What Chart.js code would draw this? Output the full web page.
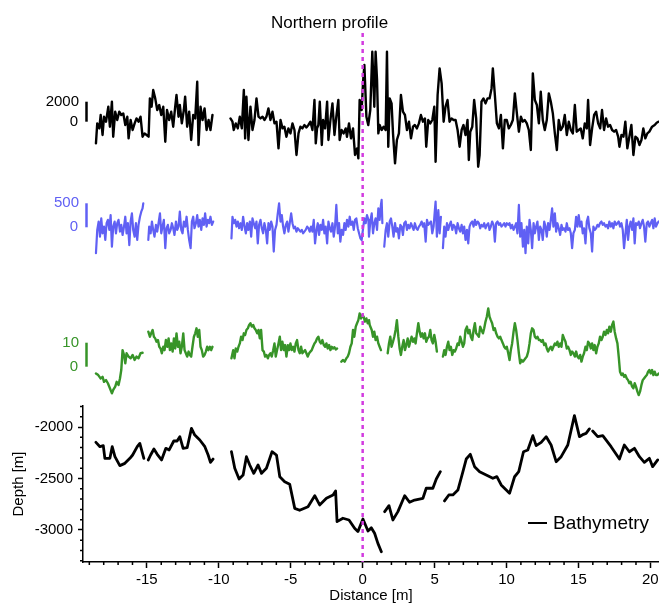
<!DOCTYPE html>
<html>
<head>
<meta charset="utf-8">
<title>Northern profile</title>
<script src="https://cdn.jsdelivr.net/npm/chart.js@4.4.1/dist/chart.umd.min.js"></script>
<style>
  html, body { margin: 0; padding: 0; background: #fff; }
</style>
</head>
<body>
<canvas id="profileChart" width="659" height="603"></canvas>
<script>
// Profile traces (distance in m, null = gap in the record)
const magX = [
  -18.54, -18.45, -18.31, -18.21, -18.08, -17.98, -17.84, -17.68, -17.57, -17.43, -17.34, -17.2, -17.06, -16.92, -16.78, -16.64,
  -16.5, -16.36, -16.27, -16.13, -15.99, -15.85, -15.72, -15.58, -15.44, -15.3, -15.16, -15.02, -14.88, -14.79, -14.67, -14.56,
  -14.42, -14.28, -14.14, -14.0, -13.86, -13.72, -13.6, -13.45, -13.31, -13.17, -13.03, -12.94, -12.8, -12.71, -12.57, -12.43,
  -12.34, -12.2, -12.06, -11.92, -11.78, -11.64, -11.5, -11.41, -11.27, -11.13, -10.99, -10.85, -10.71, -10.58, -10.44,
  -9.8,
  -9.19, -9.05, -8.96, -8.82, -8.68, -8.54, -8.4, -8.26, -8.17, -8.08, -7.94, -7.8, -7.66, -7.52, -7.38, -7.24, -7.1, -6.96,
  -6.83, -6.69, -6.55, -6.41, -6.27, -6.13, -5.99, -5.85, -5.71, -5.57, -5.44, -5.3, -5.16, -5.02, -4.88, -4.74, -4.6, -4.46,
  -4.33, -4.19, -4.05, -3.91, -3.77, -3.63, -3.49, -3.35, -3.26, -3.17, -3.08, -2.98, -2.84, -2.75, -2.61, -2.47, -2.38, -2.24,
  -2.1, -1.96, -1.83, -1.69, -1.6, -1.46, -1.32, -1.18, -1.09, -0.95, -0.81, -0.67, -0.53, -0.39, -0.3, -0.21, -0.07, 0.03, 0.12,
  0.26, 0.39, 0.53, 0.67, 0.81, 0.9, 1.0, 1.09, 1.18, 1.32, 1.46, 1.6, 1.69, 1.78, 1.88, 2.01, 2.11, 2.25, 2.38, 2.52, 2.66, 2.8,
  2.94, 3.08, 3.22, 3.36, 3.5, 3.63, 3.77, 3.91, 4.05, 4.19, 4.33, 4.42, 4.56, 4.7, 4.84, 4.98, 5.07, 5.21, 5.35, 5.49, 5.63,
  5.76, 5.9, 6.04, 6.18, 6.32, 6.46, 6.6, 6.74, 6.88, 7.01, 7.15, 7.29, 7.38, 7.48, 7.62, 7.75, 7.89, 8.03, 8.13, 8.26, 8.4, 8.54,
  8.68, 8.82, 8.96, 9.05, 9.19, 9.33, 9.47, 9.61, 9.75, 9.88, 10.02, 10.16, 10.3, 10.44, 10.58, 10.72, 10.86, 11.0, 11.13, 11.27,
  11.41, 11.55, 11.69, 11.83, 11.97, 12.11, 12.25, 12.38, 12.52, 12.66, 12.8, 12.94, 13.08, 13.22, 13.36, 13.5, 13.63, 13.77,
  13.91, 14.05, 14.19, 14.33, 14.47, 14.61, 14.75, 14.88, 15.02, 15.16, 15.3, 15.44, 15.58, 15.67, 15.81, 15.95, 16.09, 16.23,
  16.37, 16.51, 16.64, 16.78, 16.92, 17.06, 17.2, 17.34, 17.48, 17.62, 17.76, 17.85, 17.99, 18.13, 18.26, 18.4, 18.54, 18.68,
  18.82, 18.96, 19.1, 19.24, 19.38, 19.51, 19.65, 19.79, 19.93, 20.12, 20.3, 20.44, 20.56
];
const magVal = [
  -2170, -170, -670, 670, -1330, 500, 0, 1500, -500, 2000, -1500, 1000, 170, 1000, 670, 830,
  -330, 500, -1670, 170, -830, -170, 330, 0, 500, -1500, -1170, -1330, -1500, 2330, 1500, 3170,
  2330, 1170, 1670, 670, 1500, -2000, 1170, 170, 1000, -500, 1500, 2670, 500, 1670, -170, 1170,
  2500, -500, 1000, -1830, 670, 330, 4000, -2330, 1500, 170, 1330, -830, 170, -830, 670,
  null,
  330, 0, -830, -170, -670, 500, -670, 3170, -1670, 2500, -1830, 1500, -830, 170, 2330, 500, 330, 500,
  170, 500, 1330, 170, 1000, -170, 0, -2670, 170, -670, -500, -1500, -670, -1170, -170, -830, -3330, -1170,
  -500, -670, -330, -570, -330, 0, -830, 2170, -2170, -670, -330, 2000, -2330, 170, -670, 2000, -1830, 170,
  1830, -1330, 500, 2170, -1830, -830, -1170, -670, -1500, -170, -1670, -670, -3330, -2670, -3670, 2170, 1170, 4000, 5670,
  500, -330, 1170, 7000, 1500, 7000, 4170, -1170, -330, -830, -500, -830, 7000, -2500, 2330, 1830, -1170, -4170, -1830, -1170, 2670, 1000,
  670, -830, 0, -1670, -500, -330, -670, -170, 670, 0, 330, -2500, 170, -170, 170, 1500, -4000, 2670, 5330, 3830, 0,
  1500, 2170, 0, 330, 170, 170, -830, -2500, -830, -330, -1330, 170, -3830, -1000, -500, 2170, 330, -4500, -3330, 2000, 2330, 1830,
  2330, 2330, 3330, 5330, 2670, -170, -670, 670, -2670, 170, 170, -670, -330, 170, 2830, 830, -1000, 500, 0, 170,
  -170, -830, -2830, 4830, 2170, 1670, -170, 3000, 170, -830, 170, 2830, 2000, 830, -1170, -2830, 170, -830,
  -500, 670, -1330, 0, -830, -1170, 1670, -1000, -830, -670, -1670, -170, -670, 2170, -2330, -670, 670, 1000,
  -170, -670, 1170, -830, 330, -500, -330, -830, -1000, -830, -1500, -2500, -1330, -1500, 0, -2670, -1500, -330,
  -3330, -1500, -1670, -2330, -1830, -670, -1670, -1170, -1000, -500, -330, -100, 0
];

const blueX = [
  -18.54, -18.45, -18.35, -18.26, -18.17, -18.08, -17.98, -17.89, -17.8, -17.71, -17.61, -17.52, -17.43, -17.34, -17.24, -17.15,
  -17.06, -16.97, -16.87, -16.78, -16.69, -16.59, -16.5, -16.41, -16.32, -16.22, -16.13, -16.04, -15.95, -15.85, -15.76, -15.67,
  -15.58, -15.48, -15.39, -15.3, -15.25,
  -15.1,
  -14.9, -14.84, -14.74, -14.65, -14.56, -14.47, -14.37, -14.28, -14.19, -14.09, -14.0, -13.91, -13.82, -13.72, -13.63, -13.54,
  -13.45, -13.35, -13.26, -13.17, -13.08, -12.98, -12.89, -12.8, -12.71, -12.61, -12.52, -12.43, -12.33, -12.24, -12.15, -12.06,
  -11.96, -11.87, -11.78, -11.69, -11.59, -11.5, -11.41, -11.32, -11.22, -11.13, -11.04, -10.95, -10.85, -10.76, -10.67, -10.58,
  -10.48, -10.39,
  -9.8,
  -9.12, -9.05, -8.96, -8.86, -8.77, -8.68, -8.59, -8.49, -8.4, -8.31, -8.21, -8.12, -8.03, -7.94, -7.84, -7.75, -7.66, -7.57,
  -7.47, -7.38, -7.29, -7.2, -7.1, -7.01, -6.92, -6.83, -6.73, -6.64, -6.55, -6.46, -6.36, -6.27, -6.18, -6.09, -5.99, -5.9,
  -5.81, -5.71, -5.62, -5.53, -5.44, -5.34, -5.25, -5.16, -5.07, -4.97, -4.88, -4.79, -4.7, -4.6, -4.51, -4.42, -4.33, -4.23,
  -4.14, -4.05, -3.96, -3.86, -3.77, -3.68, -3.59, -3.49, -3.4, -3.31, -3.21, -3.12, -3.03, -2.94, -2.84, -2.75, -2.66, -2.57,
  -2.47, -2.38, -2.29, -2.2, -2.1, -2.01, -1.92, -1.83, -1.73, -1.64, -1.55, -1.46, -1.36, -1.27, -1.18, -1.09, -0.99, -0.9,
  -0.81, -0.71, -0.62, -0.53, -0.44, -0.34, -0.25, -0.16, -0.07, 0.03, 0.12, 0.21, 0.3, 0.4, 0.44, 0.53, 0.63, 0.72, 0.81, 0.9,
  1.0, 1.09, 1.18, 1.27, 1.32, 1.37,
  1.43,
  1.5, 1.6, 1.69, 1.78, 1.88, 1.97, 2.06, 2.15, 2.25, 2.34, 2.43, 2.52, 2.62, 2.71, 2.8, 2.89, 2.99, 3.08, 3.17, 3.26, 3.36,
  3.45, 3.54, 3.63, 3.73, 3.82, 3.91, 4.0, 4.1, 4.19, 4.28, 4.38, 4.47, 4.56, 4.65, 4.75, 4.84, 4.93, 5.02, 5.07, 5.16, 5.26,
  5.35, 5.44,
  5.5,
  5.58, 5.67, 5.76, 5.86, 5.95, 6.04, 6.13, 6.23, 6.32, 6.41, 6.5, 6.6, 6.69, 6.78, 6.88, 6.97, 7.06, 7.15, 7.25, 7.34, 7.43,
  7.52, 7.62, 7.71, 7.8, 7.89, 7.99, 8.08, 8.17, 8.26, 8.36, 8.45, 8.54, 8.63, 8.73, 8.82, 8.91, 9.0, 9.1, 9.19, 9.28, 9.38,
  9.47, 9.56, 9.65, 9.75, 9.84, 9.93, 10.02, 10.12, 10.21, 10.3, 10.39, 10.49, 10.58, 10.67, 10.76, 10.86, 10.95, 11.04, 11.14,
  11.23, 11.32, 11.41, 11.51, 11.6, 11.69, 11.78, 11.88, 11.97, 12.06, 12.15, 12.25, 12.34, 12.43, 12.52, 12.62, 12.71, 12.8,
  12.89, 12.99, 13.08, 13.17, 13.26, 13.36, 13.45, 13.54, 13.63, 13.73, 13.82, 13.91, 14.0, 14.1, 14.19, 14.28, 14.38, 14.47,
  14.56, 14.65, 14.75, 14.84, 14.93, 15.02, 15.12, 15.21, 15.3, 15.39, 15.49, 15.58, 15.67, 15.76, 15.86, 15.95, 16.04, 16.13,
  16.23, 16.32, 16.41, 16.5, 16.6, 16.69, 16.78, 16.88, 16.97, 17.06, 17.15, 17.25, 17.34, 17.43, 17.52, 17.62, 17.71, 17.8,
  17.89, 17.99, 18.08, 18.17, 18.26, 18.36, 18.45, 18.54, 18.63, 18.73, 18.82, 18.91, 19.0, 19.1, 19.19, 19.28, 19.38, 19.47,
  19.56, 19.65, 19.75, 19.84, 19.93, 20.02, 20.12, 20.21, 20.3, 20.39, 20.49, 20.58
];
const blueVal = [
  -540, -55, 120, -195, 185, -125, 15, -265, 85, 155, -55, 255, -405, 15, 120, -125,
  85, 155, -90, 50, -160, 15, 220, -125, 85, -370, 120, 290, -55, -195, 85, -265,
  50, 220, 325, 395, 500,
  null,
  -265, 15, -125, 120, -55, -195, 50, -90, 85, 290, -125, 15, 155, -435, -20, 50,
  -125, -55, 85, -20, -160, 120, -55, 15, 325, -55, -125, 120, 15, 220, -55, -265,
  -435, 120, 220, -20, 85, 255, 15, 155, -55, 185, 50, 290, 15, 155, 85, 220,
  50, 120,
  null,
  -230, 220, 85, 155, 15, 120, -20, 85, -55, 220, 15, -125, 85, -55, 120, -195, 185, 85,
  -20, 120, -335, 50, 155, -20, -125, 85, -55, -335, 85, -55, 120, 15, -505, -55, 50, 290,
  500, 120, 255, 15, -125, 50, 120, -90, 85, 290, 85, -20, 15, -90, -20, -55, -90, -55,
  -125, -90, -55, 15, -20, -90, 15, -90, 155, -335, -55, 85, -160, 50, -55, 155, -125, 15,
  -335, 120, -20, -90, 85, -195, 15, 465, -125, 85, -300, -55, -160, 85, -55, 155, 15, 220,
  50, 120, -55, 155, 185, -20, -125, -230, -265, -20, 185, 85, 255, 155, -195, 120, 290, -125, 85, 185,
  -55, 395, 155, 465, 570, 85,
  null,
  -405, -55, 85, -195, 120, 185, 15, -195, 85, -90, -20, -230, 50, 15, -160, 85, 120, -55, 50, -20, 85,
  15, -55, 85, -20, -55, 15, 50, 120, 15, 85, -300, 155, 50, 85, 120, -125, 15, 360, 535, -195, 360,
  -125, 220,
  null,
  -435, 15, -195, 85, -55, 50, 120, -55, 50, 15, -125, 85, -20, -90, 50, -125, 15, -265, -55, -335, 15,
  85, 120, 15, 155, 50, 120, 85, -20, 50, 15, 85, -20, 50, 85, -55, 15, 120, 50, -300, 85, 120,
  50, 85, 15, 50, 85, 15, 85, 50, 85, -20, 50, -55, 15, 85, -125, 465, -195, 85, -405,
  -55, -540, 15, -335, 155, -55, -435, 85, -125, 15, 120, -265, 15, -55, -265, 120, 15, -195,
  85, -55, 155, 395, 15, 290, -90, 85, -20, -160, 50, -55, -20, -90, 85, -55, -20, -125,
  -435, -125, -55, 220, 15, 255, 15, 120, -125, -20, -335, 120, 220, -20, -125, -505, 15, -55,
  -20, 50, 15, 85, 120, 50, 85, 15, 50, -20, 120, 15, 85, -20, 120, 50, 85, 120,
  15, 85, -55, -435, -160, 155, -265, 15, 120, -55, 185, -335, 85, 50, 120, -20, 85, 155,
  15, -300, 85, 120, 15, 85, 155, -20, 185, 15, 85, 120
];

const greenX = [
  -18.54, -18.38, -18.21, -18.08, -17.98, -17.84, -17.71, -17.57, -17.43, -17.34, -17.2, -17.1, -16.97, -16.87, -16.78, -16.69,
  -16.59, -16.5, -16.41, -16.27, -16.13, -15.99, -15.85, -15.72, -15.58, -15.44, -15.3,
  -15.1,
  -14.9, -14.79, -14.7, -14.6, -14.51, -14.42, -14.33, -14.23, -14.14, -14.05, -13.96, -13.86, -13.77, -13.68, -13.58, -13.49,
  -13.4, -13.31, -13.21, -13.12, -13.03, -12.94, -12.84, -12.75, -12.66, -12.57, -12.47, -12.38, -12.29, -12.2, -12.1, -12.01,
  -11.92, -11.83, -11.73, -11.64, -11.55, -11.46, -11.36, -11.27, -11.18, -11.09, -10.99, -10.9, -10.81, -10.72, -10.62, -10.53,
  -10.44,
  -9.8,
  -9.12, -9.0, -8.91, -8.82, -8.72, -8.63, -8.54, -8.45, -8.35, -8.26, -8.17, -8.08, -7.98, -7.89, -7.8, -7.71, -7.61, -7.52,
  -7.43, -7.33, -7.24, -7.15, -7.06, -6.96, -6.87, -6.78, -6.69, -6.59, -6.5, -6.41, -6.32, -6.22, -6.13, -6.04, -5.95, -5.85,
  -5.76, -5.67, -5.58, -5.48, -5.39, -5.3, -5.2, -5.11, -5.02, -4.93, -4.83, -4.74, -4.65, -4.56, -4.46, -4.37, -4.28, -4.19,
  -4.09, -4.0, -3.91, -3.82, -3.72, -3.63, -3.54, -3.45, -3.35, -3.26, -3.17, -3.08, -2.98, -2.89, -2.8, -2.7, -2.61, -2.52,
  -2.43, -2.33, -2.24, -2.15, -2.06, -1.96, -1.87, -1.78,
  -1.6,
  -1.48, -1.36, -1.25, -1.13, -1.04, -0.95, -0.85, -0.76, -0.67, -0.58, -0.48, -0.39, -0.3, -0.21, -0.11, -0.02, 0.07, 0.16,
  0.26, 0.35, 0.44, 0.49, 0.63, 0.72, 0.81, 0.9, 1.0, 1.09, 1.18, 1.27,
  1.5,
  1.74, 1.83, 1.92, 2.01, 2.11, 2.2, 2.29, 2.38, 2.48, 2.57, 2.66, 2.75, 2.85, 2.94, 3.03, 3.13, 3.22, 3.31, 3.4, 3.5, 3.59,
  3.68, 3.77, 3.87, 3.96, 4.05, 4.14, 4.24, 4.33, 4.42, 4.51, 4.61, 4.7, 4.79, 4.88, 4.98, 5.07, 5.16,
  5.4,
  5.58, 5.67, 5.76, 5.86, 5.95, 6.04, 6.13, 6.23, 6.32, 6.41, 6.5, 6.6, 6.69, 6.78, 6.88, 6.97, 7.06, 7.15, 7.25, 7.34, 7.43,
  7.52, 7.62, 7.71, 7.8, 7.89, 7.99, 8.08, 8.17, 8.26, 8.36, 8.45, 8.54, 8.63, 8.73, 8.82, 8.91, 9.0, 9.1, 9.19, 9.28, 9.38,
  9.47, 9.56, 9.65, 9.75, 9.84, 9.93, 10.02, 10.12, 10.21, 10.3, 10.39, 10.49, 10.58, 10.67, 10.76, 10.86, 10.95, 11.04, 11.14,
  11.23, 11.32, 11.41, 11.51, 11.6, 11.69, 11.78, 11.88, 11.97, 12.06, 12.15, 12.25, 12.34, 12.43, 12.52, 12.62, 12.71, 12.8,
  12.89, 12.99, 13.08, 13.17, 13.26, 13.36, 13.45, 13.54, 13.63, 13.73, 13.82, 13.91, 14.0, 14.1, 14.19, 14.28, 14.38, 14.47,
  14.56, 14.65, 14.75, 14.84, 14.93, 15.02, 15.12, 15.21, 15.3, 15.39, 15.49, 15.58, 15.67, 15.76, 15.86, 15.95, 16.04, 16.13,
  16.23, 16.32, 16.41, 16.5, 16.6, 16.69, 16.78, 16.88, 16.97, 17.06, 17.15, 17.25, 17.34, 17.43, 17.52, 17.62, 17.71, 17.8,
  17.89, 17.99, 18.08, 18.17, 18.26, 18.36, 18.45, 18.54, 18.63, 18.73, 18.82, 18.91, 19.0, 19.1, 19.19, 19.28, 19.38, 19.47,
  19.56, 19.65, 19.75, 19.84, 19.93, 20.02, 20.12, 20.21, 20.3, 20.39, 20.49, 20.58
];
const greenVal = [
  -2.8, -3.5, -4.9, -4.2, -6.3, -5.6, -6.9, -9.0, -11.1, -9.7, -8.3, -6.3, -7.6, -4.9, -1.4, 6.9,
  4.9, 1.4, 5.6, 4.2, 3.5, 4.9, 2.8, 4.2, 3.5, 5.6, 5.8,
  null,
  14.6, 12.5, 13.9, 15.3, 12.5, 11.8, 10.4, 11.1, 8.3, 7.6, 5.6, 8.3, 6.9, 11.1, 8.3, 11.8,
  6.9, 9.7, 6.3, 11.8, 7.6, 13.9, 8.3, 10.4, 5.6, 8.3, 13.9, 6.9, 5.6, 4.2, 6.3, 4.9,
  4.2, 8.3, 12.5, 13.9, 16.0, 12.5, 15.3, 8.3, 6.9, 4.2, 4.9, 6.3, 8.3, 6.9, 8.3, 6.9,
  8.3,
  null,
  3.5, 6.9, 3.5, 7.6, 6.3, 8.3, 9.7, 12.5, 11.1, 13.9, 13.2, 15.3, 16.0, 17.4, 18.1, 16.7, 17.4, 16.0,
  15.3, 13.9, 15.3, 11.8, 15.3, 6.9, 6.3, 4.2, 4.9, 3.5, 4.9, 5.6, 4.2, 6.9, 9.7, 4.2, 6.9, 9.7,
  12.5, 6.9, 10.4, 6.9, 9.0, 4.2, 9.0, 6.9, 9.7, 6.9, 8.3, 6.3, 9.7, 11.1, 6.9, 5.6, 8.3, 5.6,
  6.3, 6.9, 5.6, 4.2, 5.6, 6.3, 6.9, 8.3, 9.7, 10.4, 11.8, 12.5, 10.4, 9.7, 11.1, 9.0, 8.3, 9.7,
  7.6, 9.0, 6.9, 8.3, 7.6, 8.1, 7.2, 7.6,
  null,
  2.1, 2.8, 2.1, 3.5, 4.2, 5.6, 8.3, 9.7, 15.3, 12.5, 16.7, 18.1, 19.4, 22.2, 20.1, 21.5, 20.8, 18.8,
  20.1, 18.1, 19.4, 17.4, 15.3, 12.5, 14.6, 11.1, 12.5, 9.7, 8.3, 6.9,
  null,
  5.6, 9.7, 12.5, 8.3, 10.4, 12.5, 15.3, 19.4, 12.5, 7.6, 4.9, 8.3, 11.1, 6.9, 9.0, 11.8, 8.3, 10.4, 12.5, 10.4, 11.8,
  9.7, 13.9, 18.1, 14.6, 12.5, 13.9, 11.8, 13.9, 10.4, 11.8, 12.5, 15.3, 11.1, 9.7, 13.2, 10.4, 6.3,
  null,
  4.2, 6.9, 4.9, 8.3, 10.4, 6.9, 8.3, 4.9, 6.9, 6.3, 7.6, 9.7, 9.0, 12.5, 10.4, 8.3, 9.7, 15.3, 16.7, 13.9, 15.3,
  12.5, 11.1, 15.3, 18.1, 13.9, 13.2, 12.5, 16.7, 15.3, 13.9, 16.0, 18.8, 20.8, 24.3, 20.8, 19.4, 18.1, 15.3, 16.0, 13.9, 12.5,
  11.8, 12.5, 11.1, 9.7, 8.3, 7.6, 8.3, 5.6, 2.8, 6.9, 9.7, 14.6, 18.1, 15.3, 11.1, 5.6, 1.4, 2.8, 2.1,
  2.8, 3.5, 4.2, 6.3, 9.7, 13.9, 16.0, 15.3, 12.5, 11.8, 12.5, 11.1, 11.1, 10.4, 11.1, 9.0, 9.7, 7.6,
  6.3, 7.6, 8.3, 6.9, 8.3, 9.7, 9.0, 10.4, 8.3, 9.7, 8.3, 13.2, 11.8, 10.4, 7.6, 8.3, 6.9, 4.9,
  6.3, 5.6, 4.2, 6.3, 4.2, 3.5, 4.9, 2.1, 4.2, 5.6, 8.3, 6.9, 10.4, 9.7, 7.6, 9.7, 6.9, 9.0,
  5.6, 8.3, 9.7, 12.5, 11.1, 12.5, 14.6, 13.2, 15.3, 13.9, 16.7, 14.6, 17.4, 18.8, 14.6, 11.8, 9.7, 4.2,
  -2.1, -3.5, -2.8, -4.2, -3.5, -4.9, -5.6, -6.9, -6.3, -8.3, -9.0, -6.9, -8.3, -10.4, -11.8, -10.4, -7.6, -5.6,
  -4.9, -4.2, -3.5, -2.1, -1.4, -2.8, -1.4, -3.5, -2.1, -3.5, -3.5, -2.8
];

const bathyX = [
  -18.54, -18.26, -18.03, -17.92, -17.57, -17.41, -17.22, -16.88, -16.53, -16.18, -15.99, -15.67, -15.49, -15.21,
  -15.05,
  -14.9, -14.74, -14.51, -14.28, -13.98, -13.68, -13.45, -13.13, -12.9, -12.71, -12.48, -12.2, -11.9, -11.67, -11.32,
  -10.97, -10.74, -10.58, -10.4,
  -9.8,
  -9.12, -8.89, -8.59, -8.31, -8.08, -7.85, -7.57, -7.27, -7.03, -6.69, -6.3, -5.99, -5.76, -5.42, -5.07, -4.72, -4.38,
  -3.8, -3.33, -2.99, -2.52, -2.06, -1.88, -1.78, -1.37, -0.95, -0.56, -0.33, 0.02, 0.37, 0.6, 0.83, 1.06, 1.3,
  1.4,
  1.53, 1.83, 2.1, 2.45, 2.92, 3.26, 3.61, 4.19, 4.42, 4.88, 5.12, 5.4,
  5.55,
  5.69, 5.99, 6.27, 6.62, 6.97, 7.2, 7.48, 7.78, 8.13, 8.59, 9.05, 9.33, 9.63, 10.21, 10.56, 10.85, 11.18, 11.48,
  11.83, 12.06, 12.41, 12.76, 13.1, 13.45, 13.8, 14.26, 14.72, 15.07, 15.35, 15.53, 15.76,
  15.9,
  15.99, 16.34, 16.69, 17.27, 17.85, 18.19, 18.54, 18.89, 19.24, 19.58, 19.93, 20.16, 20.51
];
const bathyVal = [
  -2149, -2191, -2181, -2304, -2304, -2191, -2288, -2375, -2353, -2304, -2272, -2191, -2159, -2304,
  null,
  -2320, -2272, -2214, -2265, -2320, -2207, -2223, -2136, -2136, -2094, -2207, -2201, -2013, -2078, -2126,
  -2191, -2272, -2343, -2311,
  null,
  -2240, -2401, -2505, -2466, -2288, -2369, -2450, -2369, -2450, -2401, -2240, -2272, -2483, -2531, -2557, -2790, -2809,
  -2774, -2667, -2757, -2692, -2660, -2621, -2919, -2886, -2903, -2984, -3016, -2893, -3010, -2978, -3032, -3130, -3211,
  null,
  -2822, -2764, -2903, -2822, -2667, -2731, -2709, -2692, -2595, -2595, -2505, -2434,
  null,
  -2718, -2660, -2660, -2612, -2434, -2311, -2265, -2385, -2434, -2466, -2498, -2482, -2563, -2644, -2483, -2434, -2240, -2223,
  -2084, -2181, -2149, -2094, -2175, -2337, -2288, -2175, -1890, -2094, -2071, -2062, -2019,
  null,
  -2039, -2094, -2084, -2191, -2311, -2175, -2240, -2207, -2288, -2343, -2304, -2385, -2320
];

// tick labels, scale bars of the three upper traces, and the profile marker
const distanceTicks = [-15, -10, -5, 0, 5, 10, 15, 20];
const depthTicks = [-3000, -2500, -2000];
const barTops = [2000, 500, 10];
const markerAt = 0;

const ink = '#000000';
const traceBlue = '#6060f4';
const traceGreen = '#379428';
const markerPink = '#d23be0';
const fontFamily = "'Liberation Sans', Arial, sans-serif";

Chart.defaults.font.family = fontFamily;
Chart.defaults.color = ink;

function toPoints(xs, vals) {
    return xs.map((x, i) => ({ x: x, y: vals[i] }));
}

// hidden y scales, one band per trace (left stack is laid out bottom-first)
function bandScale(weight, min, max) {
    return {
        type: 'linear',
        position: 'left',
        stack: 'profile',
        stackWeight: weight,
        min: min,
        max: max,
        ticks: { display: false },
        grid: { display: false, drawTicks: false },
        border: { display: false },
        afterFit: s => { s.width = 83; }
    };
}

const barAxes = ['yMag', 'yBlue', 'yGreen'];
const barColors = [ink, traceBlue, traceGreen];

const scaleBars = {
    id: 'scaleBars',
    afterDraw(chart) {
        const { ctx, chartArea } = chart;
        const barX = chartArea.left + 3.5;
        ctx.save();
        ctx.font = '15px ' + fontFamily;
        ctx.textAlign = 'right';
        ctx.textBaseline = 'middle';
        barAxes.forEach((id, i) => {
            const s = chart.scales[id];
            const y0 = s.getPixelForValue(0);
            const y1 = s.getPixelForValue(barTops[i]);
            ctx.strokeStyle = barColors[i];
            ctx.lineWidth = 2.5;
            ctx.beginPath();
            ctx.moveTo(barX, y0);
            ctx.lineTo(barX, y1);
            ctx.stroke();
            ctx.fillStyle = barColors[i];
            ctx.fillText(String(barTops[i]), chartArea.left - 4, y1);
            ctx.fillText('0', chartArea.left - 5, y0);
        });
        ctx.restore();
    }
};

const profileMarker = {
    id: 'profileMarker',
    afterDatasetsDraw(chart) {
        const { ctx, chartArea } = chart;
        const px = chart.scales.x.getPixelForValue(markerAt);
        ctx.save();
        ctx.strokeStyle = markerPink;
        ctx.lineWidth = 2.5;
        ctx.setLineDash([4, 4]);
        ctx.beginPath();
        ctx.moveTo(px, chartArea.top);
        ctx.lineTo(px, chartArea.bottom);
        ctx.stroke();
        ctx.restore();
    }
};

const minorTicks = {
    id: 'minorTicks',
    afterDraw(chart) {
        const { ctx, chartArea } = chart;
        const xs = chart.scales.x;
        const yd = chart.scales.yDepth;
        ctx.save();
        ctx.strokeStyle = ink;
        ctx.lineWidth = 1.5;
        ctx.beginPath();
        for (let v = Math.ceil(xs.min); v <= xs.max; v++) {
            if (distanceTicks.includes(v)) continue;
            const px = xs.getPixelForValue(v);
            ctx.moveTo(px, chartArea.bottom);
            ctx.lineTo(px, chartArea.bottom + 3);
        }
        for (let v = Math.ceil(yd.min / 100) * 100; v <= yd.max; v += 100) {
            if (depthTicks.includes(v)) continue;
            const py = yd.getPixelForValue(v);
            ctx.moveTo(chartArea.left, py);
            ctx.lineTo(chartArea.left - 3, py);
        }
        ctx.stroke();
        ctx.restore();
    }
};

const bathyLegend = {
    id: 'bathyLegend',
    afterDraw(chart) {
        const { ctx, chartArea } = chart;
        const y = chartArea.bottom - 39;
        ctx.save();
        ctx.strokeStyle = ink;
        ctx.lineWidth = 2;
        ctx.beginPath();
        ctx.moveTo(chartArea.right - 131, y);
        ctx.lineTo(chartArea.right - 112, y);
        ctx.stroke();
        ctx.fillStyle = ink;
        ctx.font = '19px ' + fontFamily;
        ctx.textAlign = 'left';
        ctx.textBaseline = 'middle';
        ctx.fillText('Bathymetry', chartArea.right - 106, y + 1);
        ctx.restore();
    }
};

function traceSet(label, xs, vals, axis, color, width) {
    return {
        label: label,
        data: toPoints(xs, vals),
        yAxisID: axis,
        borderColor: color,
        borderWidth: width,
        borderJoinStyle: 'round',
        borderCapStyle: 'round',
        pointRadius: 0,
        tension: 0,
        spanGaps: false
    };
}

const ctx = document.getElementById('profileChart').getContext('2d');
new Chart(ctx, {
    type: 'line',
    data: {
        datasets: [
            traceSet('Magnetics', magX, magVal, 'yMag', ink, 2.4),
            traceSet('Blue trace', blueX, blueVal, 'yBlue', traceBlue, 2.2),
            traceSet('Green trace', greenX, greenVal, 'yGreen', traceGreen, 2.4),
            traceSet('Bathymetry', bathyX, bathyVal, 'yDepth', ink, 2.8)
        ]
    },
    options: {
        responsive: false,
        animation: false,
        layout: { padding: 0 },
        plugins: {
            legend: { display: false },
            tooltip: { enabled: false },
            title: {
                display: true,
                text: 'Northern profile',
                color: ink,
                font: { size: 17, weight: 'normal', lineHeight: 1 },
                padding: { top: 15, bottom: 1 }
            }
        },
        scales: {
            x: {
                type: 'linear',
                min: -19.44,
                max: 20.6,
                border: { color: ink, width: 1.5 },
                grid: { drawOnChartArea: false, tickLength: 6, tickWidth: 1.5, tickColor: ink },
                afterBuildTicks: s => { s.ticks = distanceTicks.map(v => ({ value: v })); },
                ticks: {
                    maxRotation: 0,
                    padding: 3,
                    color: ink,
                    font: { size: 15 },
                    callback: v => String(v)
                },
                title: { display: true, text: 'Distance [m]', color: ink, font: { size: 15 }, padding: { top: 0, bottom: -2 } },
                afterFit: s => { s.height = 41; s.paddingLeft = 0; s.paddingRight = 0; }
            },
            yDepth: {
                type: 'linear',
                position: 'left',
                stack: 'profile',
                stackWeight: 156,
                min: -3311,
                max: -1796,
                border: { color: ink, width: 1.5 },
                grid: { drawOnChartArea: false, tickLength: 5, tickWidth: 1.5, tickColor: ink },
                afterBuildTicks: s => { s.ticks = depthTicks.map(v => ({ value: v })); },
                ticks: {
                    padding: 5,
                    color: ink,
                    font: { size: 15 },
                    callback: v => String(v)
                },
                title: { display: true, text: 'Depth [m]', color: ink, font: { size: 15 }, padding: { top: 10, bottom: 0 } },
                afterFit: s => { s.width = 83; }
            },
            yGreen: bandScale(116, -16.38, 31.96),
            yBlue: bandScale(110, -1306, 985),
            yMag: bandScale(147, -5830, 8870)
        }
    },
    plugins: [scaleBars, profileMarker, minorTicks, bathyLegend]
});
</script>
</body>
</html>
